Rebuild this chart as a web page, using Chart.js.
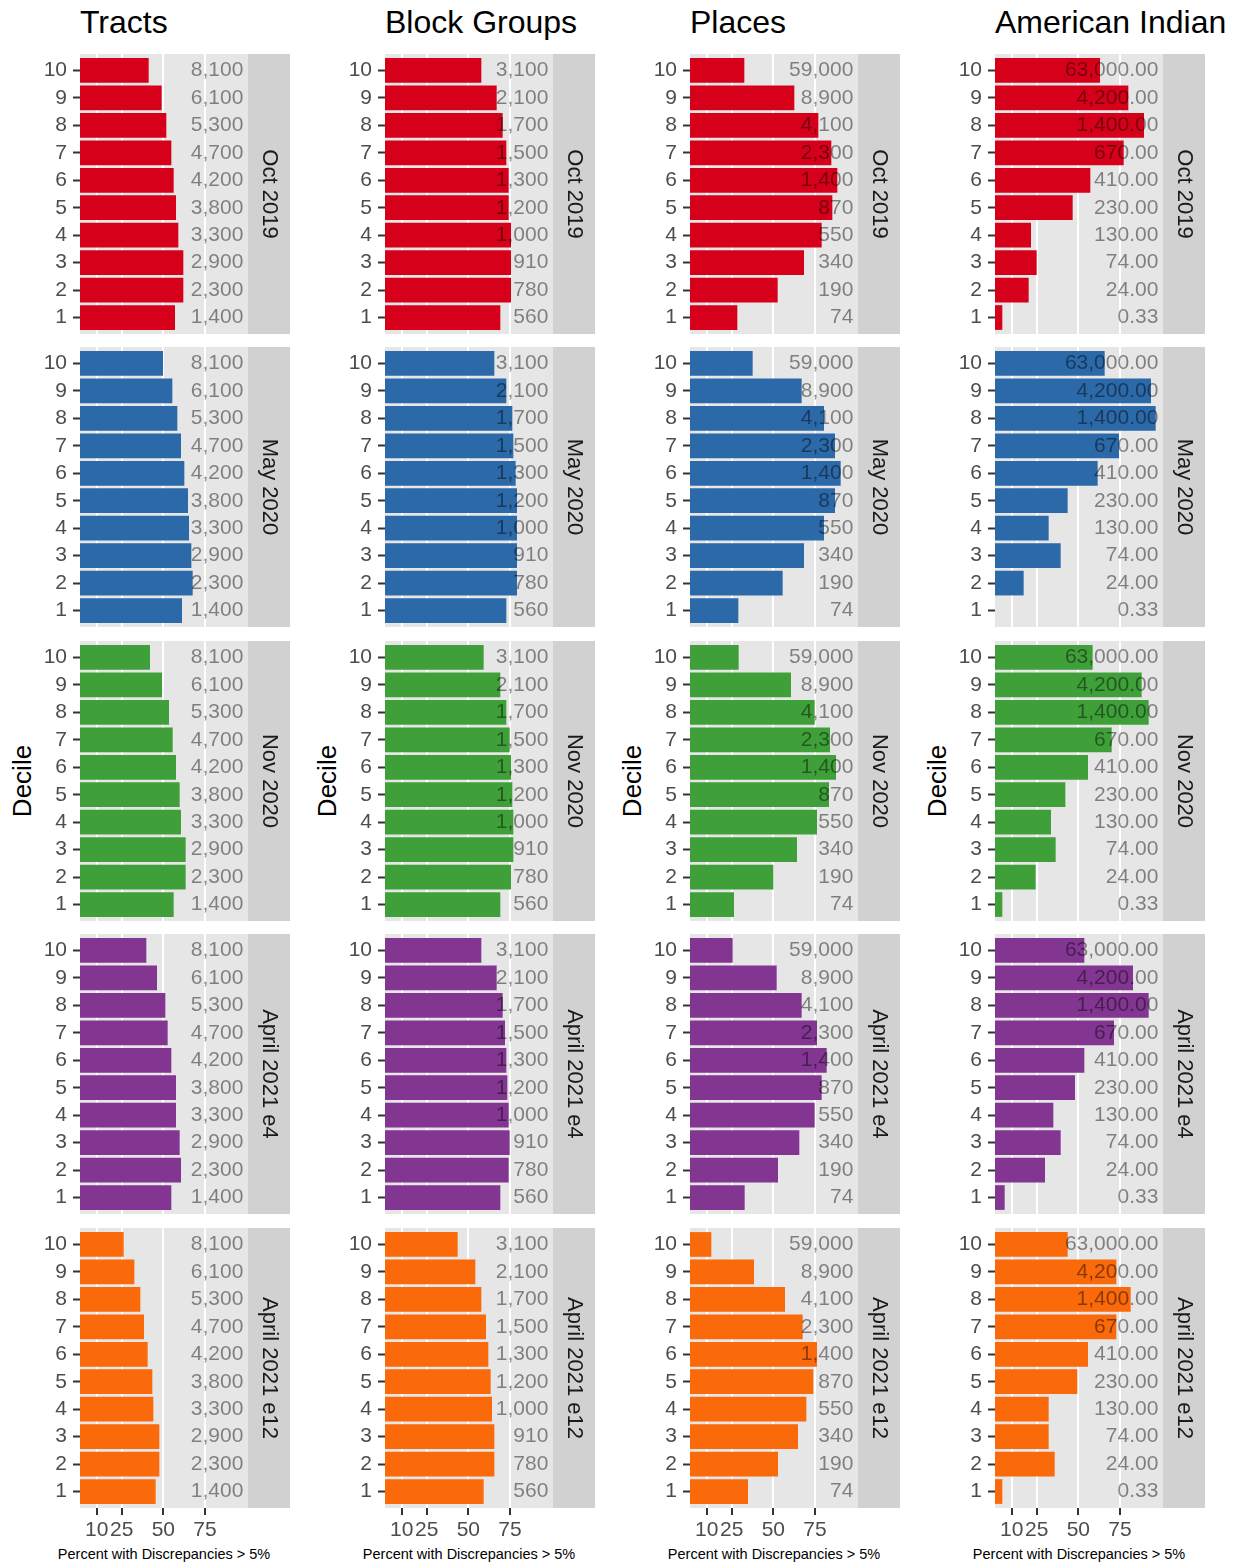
<!DOCTYPE html>
<html>
<head>
<meta charset="utf-8">
<script src="https://cdn.jsdelivr.net/npm/chart.js@4.4.1/dist/chart.umd.min.js"></script>
<style>
  body { margin: 0; background: #fff; width: 1243px; height: 1567px; position: relative; overflow: hidden;
         font-family: "Liberation Sans", Arial, sans-serif; }
  .title { position: absolute; top: 6px; font-size: 32px; line-height: 32px; color: #000; white-space: nowrap; }
  .ylab { position: absolute; font-size: 26px; line-height: 26px; color: #000; white-space: nowrap;
          transform: translate(-50%, -50%) rotate(-90deg); }
  .xlab { position: absolute; top: 1547px; font-size: 14.5px; line-height: 15px; color: #000; white-space: nowrap;
          transform: translateX(-50%); }
  canvas { position: absolute; }
</style>
</head>
<body>
<script>
// ---- data ----
const geographies = ['Tracts', 'Block Groups', 'Places', 'American Indian'];
const periods = ['Oct 2019', 'May 2020', 'Nov 2020', 'April 2021 e4', 'April 2021 e12'];
const periodColors = ['#D7001B', '#2C69A9', '#3FA03A', '#833592', '#FA690A'];
const deciles = [1, 2, 3, 4, 5, 6, 7, 8, 9, 10];
const xTicks = [10, 25, 50, 75];

// text shown at the right of each decile row (decile 1 .. 10)
const tractsLabels = ['1,400', '2,300', '2,900', '3,300', '3,800', '4,200', '4,700', '5,300', '6,100', '8,100'];
const blockGroupsLabels = ['560', '780', '910', '1,000', '1,200', '1,300', '1,500', '1,700', '2,100', '3,100'];
const placesLabels = ['74', '190', '340', '550', '870', '1,400', '2,300', '4,100', '8,900', '59,000'];
const amIndianLabels = ['0.33', '24.00', '74.00', '130.00', '230.00', '410.00', '670.00', '1,400.00', '4,200.00', '63,000.00'];

// percent with discrepancies > 5%, one row per period, deciles 1 .. 10
const tractsPct = [
  [57.0, 62.0, 62.0, 59.0, 57.6, 56.2, 54.8, 51.8, 49.0, 41.2],
  [61.2, 67.6, 66.8, 65.4, 64.8, 62.6, 60.6, 58.4, 55.4, 49.8],
  [56.2, 63.4, 63.4, 60.6, 59.8, 57.6, 55.6, 53.4, 49.2, 42.0],
  [54.8, 60.6, 59.8, 57.6, 57.6, 54.8, 52.6, 51.2, 46.2, 39.8],
  [45.4, 47.6, 47.6, 44.0, 43.4, 40.6, 38.4, 36.2, 32.6, 26.2]
];
const blockGroupsPct = [
  [69.2, 75.6, 75.6, 75.6, 74.2, 74.2, 72.8, 70.6, 67.0, 57.8],
  [72.8, 79.2, 79.2, 79.2, 79.2, 78.4, 77.0, 76.4, 72.8, 65.6],
  [69.2, 75.6, 77.0, 77.0, 76.4, 75.6, 74.8, 72.8, 69.2, 59.2],
  [69.2, 74.2, 74.8, 74.2, 73.4, 72.8, 72.0, 70.6, 67.0, 57.8],
  [59.2, 65.6, 65.6, 64.2, 63.4, 62.0, 60.6, 57.8, 54.2, 43.6]
];
const placesPct = [
  [28.4, 52.6, 68.4, 79.0, 85.4, 88.4, 84.8, 77.0, 62.6, 32.6],
  [29.0, 55.6, 68.4, 80.4, 87.0, 90.4, 87.0, 80.4, 67.0, 37.6],
  [26.4, 50.0, 64.2, 76.2, 83.4, 87.6, 84.0, 74.8, 60.6, 29.2],
  [32.8, 52.8, 65.6, 74.8, 79.0, 82.0, 76.2, 67.0, 52.0, 25.6],
  [34.8, 52.8, 64.8, 69.8, 74.0, 76.2, 67.6, 57.0, 38.4, 12.8]
];
const amIndianPct = [
  [4.4, 20.2, 25.0, 21.6, 46.6, 57.2, 77.2, 89.4, 80.0, 63.0],
  [0.0, 17.2, 39.4, 32.2, 43.6, 61.6, 74.4, 96.4, 93.6, 65.8],
  [4.4, 24.4, 36.4, 33.6, 42.2, 55.8, 70.0, 92.2, 88.0, 58.6],
  [5.8, 30.0, 39.4, 35.0, 48.0, 53.6, 71.4, 92.2, 82.8, 53.6],
  [4.4, 35.8, 32.2, 32.2, 49.4, 55.8, 72.8, 81.4, 72.8, 43.6]
];

const geoPct = [tractsPct, blockGroupsPct, placesPct, amIndianPct];
const geoLabels = [tractsLabels, blockGroupsLabels, placesLabels, amIndianLabels];

// ---- layout ----
const COL_LEFT = [80, 385, 690, 995];
const ROW_TOP = [54, 347, 641, 934, 1228];
const PANEL_W = 168, PANEL_H = 280, STRIP_W = 42, AXIS_W = 52, XAXIS_H = 50;
const X_MAX = 100.8, LABEL_X = 98;
const FONT = '"Liberation Sans", Arial, sans-serif';

Chart.defaults.font.family = FONT;

const facetPlugin = {
  id: 'facet',
  beforeDraw(chart, args, opts) {
    const { ctx, chartArea: a } = chart;
    ctx.save();
    ctx.fillStyle = '#E6E6E6';
    ctx.fillRect(a.left, a.top, a.right - a.left, a.bottom - a.top);
    ctx.fillStyle = '#D1D1D1';
    ctx.fillRect(a.right, a.top, STRIP_W, a.bottom - a.top);
    ctx.translate(a.right + STRIP_W / 2, (a.top + a.bottom) / 2);
    ctx.rotate(Math.PI / 2);
    ctx.fillStyle = '#1A1A1A';
    ctx.font = '22px ' + FONT;
    ctx.textAlign = 'center';
    ctx.textBaseline = 'middle';
    ctx.fillText(opts.strip, 0, 0);
    ctx.restore();
  },
  afterDatasetsDraw(chart, args, opts) {
    const { ctx } = chart;
    const xs = chart.scales.x, ys = chart.scales.y;
    ctx.save();
    ctx.font = '21px ' + FONT;
    ctx.fillStyle = 'rgba(0,0,0,0.45)';
    ctx.textAlign = 'right';
    ctx.textBaseline = 'middle';
    opts.labels.forEach((t, i) => ctx.fillText(t, xs.getPixelForValue(LABEL_X), ys.getPixelForValue(deciles[i])));
    ctx.restore();
  }
};

function addText(cls, text, style) {
  const d = document.createElement('div');
  d.className = cls;
  d.textContent = text;
  Object.assign(d.style, style);
  document.body.appendChild(d);
}

geographies.forEach((g, c) => {
  addText('title', g, { left: COL_LEFT[c] + 'px' });
  addText('ylab', 'Decile', { left: (COL_LEFT[c] - 58) + 'px', top: ((ROW_TOP[0] + ROW_TOP[4] + PANEL_H) / 2) + 'px' });
  addText('xlab', 'Percent with Discrepancies > 5%', { left: (COL_LEFT[c] + PANEL_W / 2) + 'px' });

  periods.forEach((p, r) => {
    const bottom = r === periods.length - 1;
    const w = AXIS_W + PANEL_W + STRIP_W;
    const h = PANEL_H + (bottom ? XAXIS_H : 0);
    const cv = document.createElement('canvas');
    cv.width = w; cv.height = h;
    cv.style.left = (COL_LEFT[c] - AXIS_W) + 'px';
    cv.style.top = ROW_TOP[r] + 'px';
    cv.style.width = w + 'px';
    cv.style.height = h + 'px';
    document.body.appendChild(cv);

    new Chart(cv, {
      type: 'bar',
      data: {
        datasets: [{
          data: geoPct[c][r].map((v, i) => ({ x: v, y: deciles[i] })),
          backgroundColor: periodColors[r],
          borderWidth: 0,
          categoryPercentage: 0.9,
          barPercentage: 1
        }]
      },
      plugins: [facetPlugin],
      options: {
        indexAxis: 'y',
        responsive: false,
        animation: false,
        events: [],
        layout: { padding: { left: 0, right: STRIP_W, top: 0, bottom: 0 } },
        plugins: {
          legend: { display: false },
          tooltip: { enabled: false },
          facet: { strip: p, labels: geoLabels[c] }
        },
        scales: {
          x: {
            type: 'linear', min: 0, max: X_MAX, position: 'bottom', offset: false,
            afterBuildTicks: s => { s.ticks = xTicks.map(v => ({ value: v })); },
            afterFit: s => { s.height = bottom ? XAXIS_H : 0; s.paddingLeft = 0; s.paddingRight = 0; },
            grid: { color: '#FFFFFF', lineWidth: 2, offset: false, drawTicks: bottom, tickLength: 7,
                    tickColor: '#333333', tickWidth: 2 },
            border: { display: false },
            ticks: { display: bottom, autoSkip: false, maxRotation: 0, minRotation: 0, color: '#4D4D4D',
                     font: { size: 21 }, padding: 3 }
          },
          y: {
            type: 'linear', min: 0.4, max: 10.6, offset: false,
            afterBuildTicks: s => { s.ticks = deciles.map(v => ({ value: v })); },
            afterFit: s => { s.width = AXIS_W; s.paddingTop = 0; s.paddingBottom = 0; },
            grid: { drawOnChartArea: false, offset: false, drawTicks: true, tickLength: 7,
                    tickColor: '#333333', tickWidth: 2 },
            border: { display: false },
            ticks: { autoSkip: false, color: '#4D4D4D', font: { size: 21 }, padding: 6, callback: v => String(v) }
          }
        }
      }
    });
  });
});
</script>
</body>
</html>
